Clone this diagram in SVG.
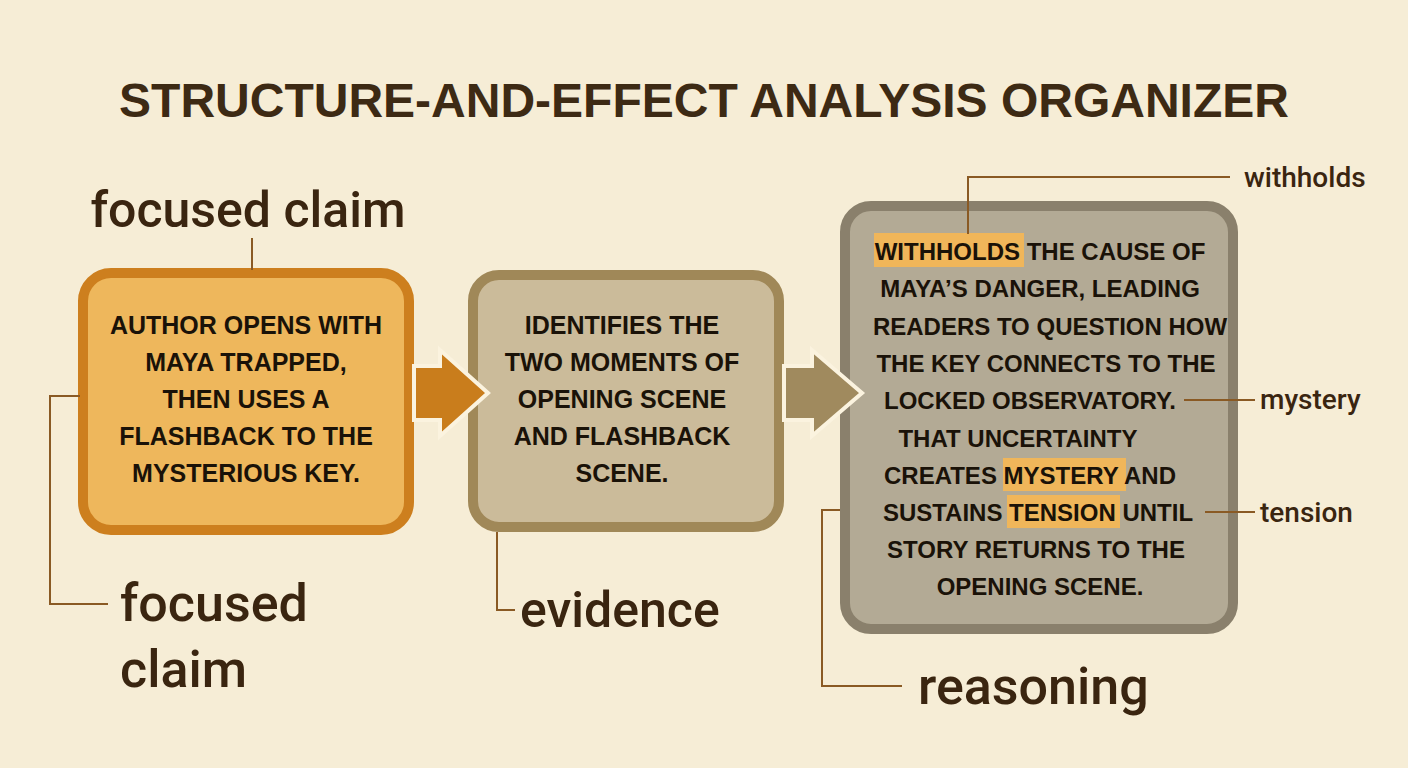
<svg xmlns="http://www.w3.org/2000/svg" width="1408" height="768" viewBox="0 0 1408 768">
<style>
.t{font-family:"Liberation Sans",Arial,sans-serif;font-weight:bold;font-size:25px;fill:#1a1208;text-anchor:middle}
.t3{font-size:24px}
.lab{font-family:Roboto,"Liberation Sans",sans-serif;font-weight:500;fill:#3a2510}
.ln{stroke:#8a5a24;stroke-width:2;fill:none}
</style>
<rect width="1408" height="768" fill="#f6edd6"/>
<text x="704" y="117" text-anchor="middle" font-family="'Liberation Sans',Arial,sans-serif" font-weight="bold" font-size="48" fill="#3d2a14">STRUCTURE-AND-EFFECT ANALYSIS ORGANIZER</text>
<g id="label-claim-top"><text class="lab" x="248" y="227" font-size="50" text-anchor="middle">focused claim</text></g>
<g id="box-claim">
<rect x="83" y="273" width="326" height="257" rx="28" fill="#eeb75c" stroke="#cd7f1e" stroke-width="10"/>
<text class="t" x="246" y="334">AUTHOR OPENS WITH</text>
<text class="t" x="246" y="371">MAYA TRAPPED,</text>
<text class="t" x="246" y="408">THEN USES A</text>
<text class="t" x="246" y="445">FLASHBACK TO THE</text>
<text class="t" x="246" y="482">MYSTERIOUS KEY.</text>
</g>
<g id="label-claim-bottom"><text class="lab" x="120" y="621" font-size="52">focused</text><text class="lab" x="120" y="687" font-size="52">claim</text></g>
<g id="box-evidence">
<rect x="473" y="275" width="306" height="252" rx="26" fill="#cbbb9a" stroke="#a08858" stroke-width="10"/>
<text class="t" x="622" y="334">IDENTIFIES THE</text>
<text class="t" x="622" y="371">TWO MOMENTS OF</text>
<text class="t" x="622" y="408">OPENING SCENE</text>
<text class="t" x="622" y="445">AND FLASHBACK</text>
<text class="t" x="622" y="482">SCENE.</text>
</g>
<g id="label-evidence"><text class="lab" x="520" y="627" font-size="50">evidence</text></g>
<g id="box-reasoning">
<rect x="845" y="206" width="388" height="423" rx="26" fill="#b3aa95" stroke="#8a806c" stroke-width="10"/>
<rect x="874" y="233" width="150" height="34" fill="#f0b65a"/>
<rect x="1003" y="458" width="123" height="33" fill="#f0b65a"/>
<rect x="1007" y="495" width="113" height="33" fill="#f0b65a"/>
<text class="t t3" x="1040" y="260">WITHHOLDS THE CAUSE OF</text>
<text class="t t3" x="1040" y="297">MAYA’S DANGER, LEADING</text>
<text class="t t3" x="1050" y="335">READERS TO QUESTION HOW</text>
<text class="t t3" x="1046" y="372">THE KEY CONNECTS TO THE</text>
<text class="t t3" x="1030" y="409">LOCKED OBSERVATORY.</text>
<text class="t t3" x="1018" y="447">THAT UNCERTAINTY</text>
<text class="t t3" x="1030" y="484">CREATES MYSTERY AND</text>
<text class="t t3" x="1038" y="521">SUSTAINS TENSION UNTIL</text>
<text class="t t3" x="1036" y="558">STORY RETURNS TO THE</text>
<text class="t t3" x="1040" y="595">OPENING SCENE.</text>
</g>
<g id="label-withholds"><text class="lab" x="1244" y="187" font-size="28">withholds</text></g>
<g id="label-mystery"><text class="lab" x="1260" y="409" font-size="28">mystery</text></g>
<g id="label-tension"><text class="lab" x="1260" y="522" font-size="28">tension</text></g>
<g id="label-reasoning"><text class="lab" x="918" y="704" font-size="52">reasoning</text></g>
<g id="connectors">
<path class="ln" d="M252 238V270"/>
<path class="ln" d="M80 396H50V604H108"/>
<path class="ln" d="M497 532V610H515"/>
<path class="ln" d="M968 234V177H1230"/>
<path class="ln" d="M1184 400H1255"/>
<path class="ln" d="M1205 512H1255"/>
<path class="ln" d="M840 510H822V686H902"/>
<polygon points="414,366 440,366 440,350 488,393 440,436 440,420 414,420" fill="#c97d1c" stroke="#fbf3df" stroke-width="4"/>
<polygon points="784,366 812,366 812,350 862,393 812,436 812,420 784,420" fill="#a08a5e" stroke="#fbf3df" stroke-width="4"/>
</g>
</svg>
